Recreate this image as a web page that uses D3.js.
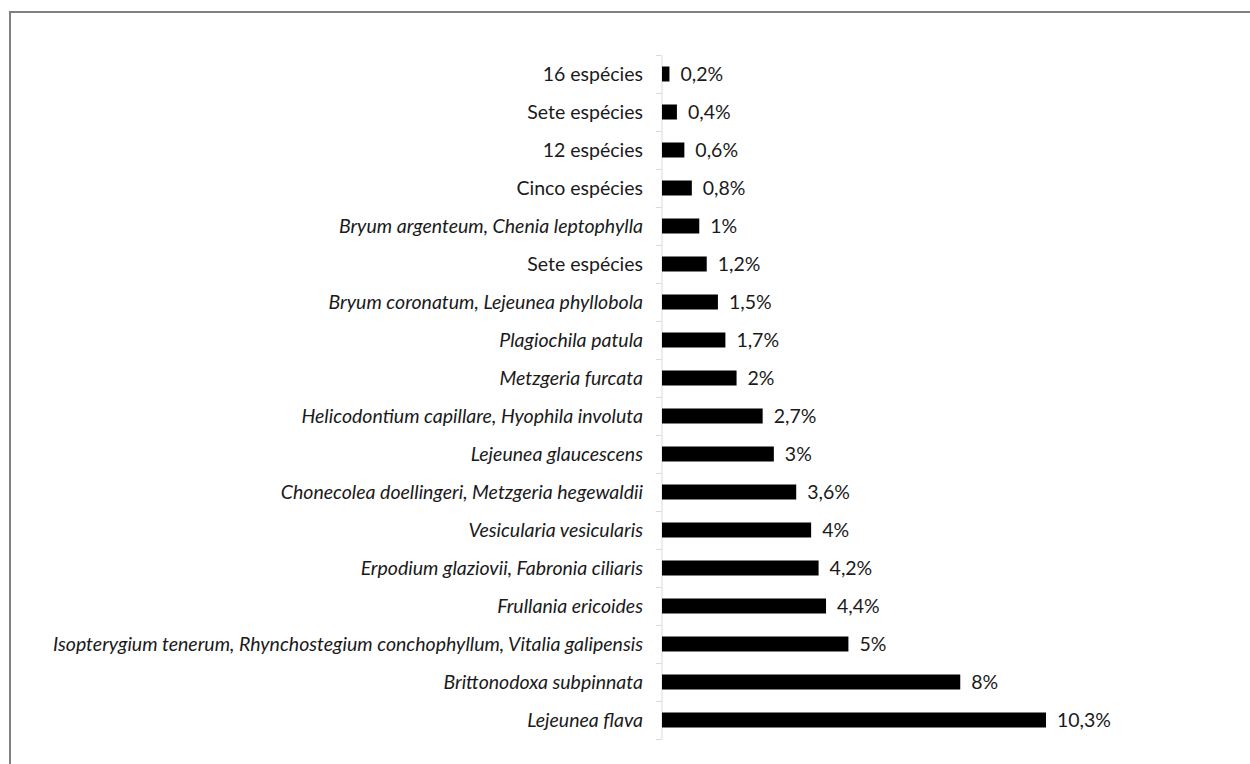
<!DOCTYPE html>
<html>
<head>
<meta charset="utf-8">
<script src="https://cdn.jsdelivr.net/npm/d3@7"></script>
<style>
  html, body { margin: 0; padding: 0; background: #fff; }
  svg { display: block; }
</style>
</head>
<body>
<svg id="chart" width="1250" height="764"></svg>
<script>
const categories = [
  "16 espécies",
  "Sete espécies",
  "12 espécies",
  "Cinco espécies",
  "Bryum argenteum, Chenia leptophylla",
  "Sete espécies",
  "Bryum coronatum, Lejeunea phyllobola",
  "Plagiochila patula",
  "Metzgeria furcata",
  "Helicodontium capillare, Hyophila involuta",
  "Lejeunea glaucescens",
  "Chonecolea doellingeri, Metzgeria hegewaldii",
  "Vesicularia vesicularis",
  "Erpodium glaziovii, Fabronia ciliaris",
  "Frullania ericoides",
  "Isopterygium tenerum, Rhynchostegium conchophyllum, Vitalia galipensis",
  "Brittonodoxa subpinnata",
  "Lejeunea flava"
];
const values = [0.2, 0.4, 0.6, 0.8, 1, 1.2, 1.5, 1.7, 2, 2.7, 3, 3.6, 4, 4.2, 4.4, 5, 8, 10.3];
const valueLabels = ["0,2%", "0,4%", "0,6%", "0,8%", "1%", "1,2%", "1,5%", "1,7%", "2%", "2,7%", "3%", "3,6%", "4%", "4,2%", "4,4%", "5%", "8%", "10,3%"];
const italic = [false, false, false, false, true, false, true, true, true, true, true, true, true, true, true, true, true, true];

const svg = d3.select("#chart");
const FONT = "'Lato', 'Open Sans', sans-serif";
const FS = 19.5;

// frame
svg.append("line").attr("x1", 10).attr("x2", 1250).attr("y1", 12).attr("y2", 12)
  .attr("stroke", "#808080").attr("stroke-width", 2);
svg.append("line").attr("x1", 10).attr("x2", 10).attr("y1", 11).attr("y2", 764)
  .attr("stroke", "#808080").attr("stroke-width", 2);

const x0 = 662;
const x = d3.scaleLinear().domain([0, 10.3]).range([x0, 1046]);
const idx = categories.map((c, i) => i);
const yb = d3.scaleBand().domain(idx).range([55, 739]);

// axis
const axis = d3.axisLeft(yb).tickSize(0).tickFormat("");
const ag = svg.append("g").attr("transform", `translate(${x0 - 0.5},0)`).call(axis);
ag.select(".domain").attr("stroke", "#d9d9d9").attr("stroke-width", 1);
// tick marks at band boundaries
const bounds = d3.range(categories.length + 1).map(i => 55 + i * yb.step());
svg.append("g").selectAll("line").data(bounds).join("line")
  .attr("x1", x0 - 6).attr("x2", x0 - 0.5)
  .attr("y1", d => Math.round(d) + 0.5).attr("y2", d => Math.round(d) + 0.5)
  .attr("stroke", "#d9d9d9").attr("stroke-width", 1);

// bars
const barH = 15;
svg.append("g").selectAll("rect").data(values).join("rect")
  .attr("x", x(0))
  .attr("y", (d, i) => yb(i) + yb.bandwidth() / 2 - barH / 2)
  .attr("width", d => x(d) - x(0))
  .attr("height", barH)
  .attr("fill", "#000");

// category labels
svg.append("g").selectAll("text").data(categories).join("text")
  .attr("x", 643)
  .attr("y", (d, i) => yb(i) + yb.bandwidth() / 2)
  .attr("dy", "0.35em")
  .attr("text-anchor", "end")
  .attr("font-family", FONT)
  .attr("font-size", FS)
  .attr("font-style", (d, i) => italic[i] ? "italic" : "normal")
  .attr("fill", "#1a1a1a")
  .text(d => d);

// value labels
svg.append("g").selectAll("text").data(values).join("text")
  .attr("x", d => x(d) + 11)
  .attr("y", (d, i) => yb(i) + yb.bandwidth() / 2)
  .attr("dy", "0.35em")
  .attr("font-family", FONT)
  .attr("font-size", FS)
  .attr("fill", "#1a1a1a")
  .text((d, i) => valueLabels[i]);
</script>
</body>
</html>
